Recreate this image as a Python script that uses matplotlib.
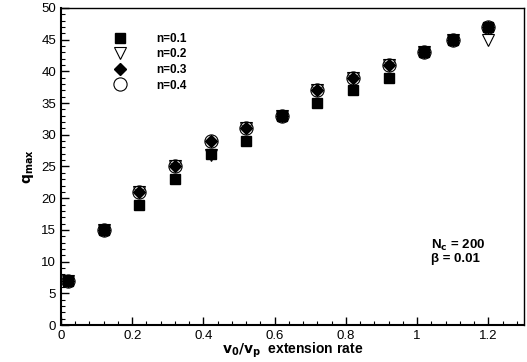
import matplotlib.pyplot as plt
from matplotlib.ticker import MultipleLocator

plt.rcParams['font.family'] = ['Liberation Sans', 'DejaVu Sans']

# data
x = [0.02, 0.12, 0.22, 0.32, 0.42, 0.52, 0.62, 0.72, 0.82, 0.92, 1.02, 1.10, 1.20]
q_n01 = [7, 15, 19, 23, 27, 29, 33, 35, 37, 39, 43, 45, 47]
q_n02 = [7, 15, 21, 25, 26.8, 31, 33, 37, 39, 41, 43, 45, 45]
q_n03 = [7, 15, 21, 25, 29, 31, 33, 37, 39, 41, 43, 45, 47]
q_n04 = [7, 15, 21, 25, 29, 31, 33, 37, 39, 41, 43, 45, 47]
labels = ['n=0.1', 'n=0.2', 'n=0.3', 'n=0.4']

fig = plt.figure(figsize=(5.27, 3.62), dpi=100)
ax = fig.add_axes([0.1157, 0.1022, 0.8786, 0.8758])

# squares drawn above the triangles
ax.plot(x, q_n01, 's', color='black', ms=6.5, mec='black', label=labels[0], zorder=4)
ax.plot(x, q_n02, 'v', mfc='white', mec='black', ms=8, mew=0.8, label=labels[1], zorder=3)
ax.plot(x, q_n03, 'D', color='black', ms=6.5, label=labels[2], zorder=5)
ax.plot(x, q_n04, 'o', mfc='none', mec='black', ms=9.5, mew=0.8, label=labels[3], zorder=6)

ax.set_xlim(0, 1.3)
ax.set_ylim(0, 50)
ax.xaxis.set_major_locator(MultipleLocator(0.2))
ax.xaxis.set_minor_locator(MultipleLocator(0.04))
ax.yaxis.set_major_locator(MultipleLocator(5))
ax.yaxis.set_minor_locator(MultipleLocator(1))
ax.tick_params(which='both', direction='in', top=False, right=False, labelsize=9.5)
ax.tick_params(which='major', length=6, width=1)
ax.tick_params(which='minor', length=3, width=0.8)
ax.xaxis.set_major_formatter(plt.FuncFormatter(lambda v, p: '%g' % round(v, 2)))

for s in ['left', 'bottom']:
    ax.spines[s].set_linewidth(1.5)
for s in ['top', 'right']:
    ax.spines[s].set_linewidth(1)

ax.set_xlabel(r'$\mathbf{v_0/v_p}$  extension rate', fontsize=10, fontweight='bold', labelpad=-1)
ax.set_ylabel(r'$\mathbf{q_{max}}$', fontsize=10, labelpad=4)

ax.legend(loc='upper left', bbox_to_anchor=(0.09, 0.94), frameon=False,
          prop={'weight': 'bold', 'size': 8.5}, handletextpad=2.0,
          labelspacing=0.3, borderpad=0)

ax.text(1.04, 12.6, r'N$_\mathbf{c}$ = 200', fontsize=9.5, fontweight='bold', va='center')
ax.text(1.04, 10.4, 'β = 0.01', fontsize=9.5, fontweight='bold', va='center')

fig.savefig('out.png', dpi=100)
